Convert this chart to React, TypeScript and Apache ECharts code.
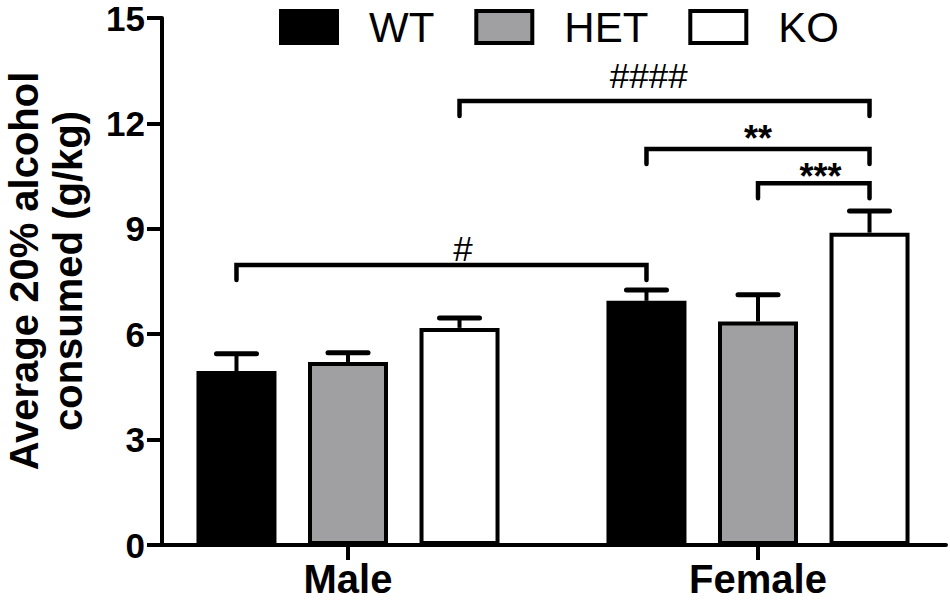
import React, { useEffect, useRef } from "react";
import * as echarts from "echarts";

const CATEGORIES = ["Male", "Female"];
const GROUPS = ["WT", "HET", "KO"];
const WT_MEAN = [4.95, 6.95];
const WT_SEM = [0.49, 0.31];
const HET_MEAN = [5.21, 6.36];
const HET_SEM = [0.26, 0.76];
const KO_MEAN = [6.18, 8.89];
const KO_SEM = [0.28, 0.62];
const Y_MIN = 0;
const Y_MAX = 15;
const Y_STEP = 3;
const Y_NAME = ["Average 20% alcohol", "consumed (g/kg)"];

// significance brackets: from/to = [category index, group index]
const BRACKET_FROM = [[0, 0], [0, 2], [1, 0], [1, 1]];
const BRACKET_TO = [[1, 0], [1, 2], [1, 2], [1, 2]];
const BRACKET_Y = [7.97, 12.64, 11.27, 10.3];
const BRACKET_TEXT = ["#", "####", "**", "***"];
const BRACKET_LABEL_AT = [[0, 2.03], [1, 0.02], [1, 1.0], [1, 1.56]];
const BRACKET_LABEL_Y = [8.45, 13.36, 11.56, 10.48];

const FONT = "'Liberation Sans', Arial, Helvetica, sans-serif";
const BAR_W = 80;
const BAR_GAP = 0.394;
const STEP = BAR_W * (1 + BAR_GAP);
const CAP_W = 40;
const DROP = 15;

export default function App() {
  const ref = useRef<HTMLDivElement>(null);
  useEffect(() => {
    document.body.style.margin = "0";
    if (!ref.current) return;
    const chart = echarts.init(ref.current, undefined, { renderer: "svg" });
    const means = [WT_MEAN, HET_MEAN, KO_MEAN];
    const sems = [WT_SEM, HET_SEM, KO_SEM];
    const fills = ["#000000", "#a0a0a3", "#ffffff"];

    const errData: number[][] = [];
    GROUPS.forEach((_, s) => {
      CATEGORIES.forEach((_, c) => {
        errData.push([c, means[s][c], sems[s][c], s]);
      });
    });

    const gridTop = 18;
    const gridBottom = 60;

    const option: any = {
      animation: false,
      textStyle: { fontFamily: FONT },
      grid: [
        { left: 162, right: 4, top: gridTop, bottom: gridBottom, outerBoundsMode: "none", containLabel: false },
        { left: 143, width: 820, top: gridTop, bottom: gridBottom, outerBoundsMode: "none", containLabel: false },
      ],
      legend: {
        data: GROUPS,
        left: 279,
        top: 6,
        padding: 0,
        icon: "rect",
        itemWidth: 56,
        itemHeight: 32,
        itemGap: 40,
        selectedMode: false,
        itemStyle: { borderWidth: 4, borderColor: "#000" },
        textStyle: {
          fontFamily: FONT,
          fontSize: 42,
          color: "#000",
          lineHeight: 36,
          padding: [0, 0, 0, 27],
        },
      },
      xAxis: [
        {
          type: "value",
          gridIndex: 0,
          min: 0,
          max: 1,
          axisLine: { show: true, lineStyle: { color: "#000", width: 4 } },
          axisTick: { show: false },
          axisLabel: { show: false },
          splitLine: { show: false },
        },
        {
          type: "category",
          gridIndex: 1,
          data: CATEGORIES,
          axisLine: { show: false },
          axisTick: {
            show: true,
            alignWithLabel: true,
            length: 15,
            lineStyle: { color: "#000", width: 4 },
          },
          axisLabel: {
            margin: 14,
            color: "#000",
            fontFamily: FONT,
            fontWeight: "bold",
            fontSize: 40,
          },
          splitLine: { show: false },
        },
      ],
      yAxis: [
        {
          type: "value",
          gridIndex: 0,
          min: Y_MIN,
          max: Y_MAX,
          interval: Y_STEP,
          axisLine: { show: true, lineStyle: { color: "#000", width: 4 } },
          axisTick: { show: true, length: 15, lineStyle: { color: "#000", width: 4 } },
          axisLabel: {
            margin: 17,
            color: "#000",
            fontFamily: FONT,
            fontWeight: "bold",
            fontSize: 35,
            lineHeight: 28,
          },
          splitLine: { show: false },
        },
        {
          type: "value",
          gridIndex: 1,
          min: Y_MIN,
          max: Y_MAX,
          interval: Y_STEP,
          show: false,
          splitLine: { show: false },
        },
      ],
      graphic: Y_NAME.map((line, k) => ({
        type: "text",
        x: k === 0 ? 24 : 68,
        y: 271,
        rotation: Math.PI / 2,
        style: {
          text: line,
          fontFamily: FONT,
          fontWeight: "bold",
          fontSize: 40,
          lineHeight: 34,
          fill: "#000",
          align: "center",
          verticalAlign: "middle",
          textAlign: "center",
          textVerticalAlign: "middle",
        },
      })),
      series: [
        ...GROUPS.map((g, s) => ({
          name: g,
          type: "bar",
          xAxisIndex: 1,
          yAxisIndex: 1,
          data: means[s],
          barWidth: BAR_W,
          barGap: BAR_GAP * 100 + "%",
          itemStyle: { color: fills[s], borderColor: "#000", borderWidth: 4 },
          emphasis: { disabled: true },
          z: 2,
        })),
        {
          type: "custom",
          name: "err",
          xAxisIndex: 1,
          yAxisIndex: 1,
          data: errData,
          z: 3,
          clip: false,
          silent: true,
          renderItem: (params: any, api: any) => {
            const c = api.value(0);
            const m = api.value(1);
            const e = api.value(2);
            const s = api.value(3);
            const base = api.coord([c, m]);
            const top = api.coord([c, m + e]);
            const x = base[0] + (s - 1) * STEP;
            return {
              type: "group",
              children: [
                {
                  type: "line",
                  shape: { x1: x, y1: base[1], x2: x, y2: top[1] },
                  style: { stroke: "#000", lineWidth: 4 },
                },
                {
                  type: "line",
                  shape: { x1: x - CAP_W / 2, y1: top[1], x2: x + CAP_W / 2, y2: top[1] },
                  style: { stroke: "#000", lineWidth: 5, lineCap: "round" },
                },
              ],
            };
          },
        },
        {
          type: "custom",
          name: "sig",
          xAxisIndex: 1,
          yAxisIndex: 1,
          data: BRACKET_Y.map((y, i) => [BRACKET_FROM[i][0], y]),
          z: 4,
          clip: false,
          silent: true,
          renderItem: (params: any, api: any) => {
            const i = params.dataIndex;
            const f = BRACKET_FROM[i];
            const t = BRACKET_TO[i];
            const la = BRACKET_LABEL_AT[i];
            const p1 = api.coord([f[0], BRACKET_Y[i]]);
            const p2 = api.coord([t[0], BRACKET_Y[i]]);
            const pl = api.coord([la[0], BRACKET_LABEL_Y[i]]);
            const x1 = p1[0] + (f[1] - 1) * STEP;
            const x2 = p2[0] + (t[1] - 1) * STEP;
            const y = p1[1];
            const xl = pl[0] + (la[1] - 1) * STEP;
            const isHash = BRACKET_TEXT[i].indexOf("#") >= 0;
            return {
              type: "group",
              children: [
                {
                  type: "polyline",
                  shape: {
                    points: [
                      [x1, y + DROP],
                      [x1, y],
                      [x2, y],
                      [x2, y + DROP],
                    ],
                  },
                  style: { stroke: "#000", lineWidth: 4.5, lineCap: "round", fill: "none" },
                },
                {
                  type: "text",
                  style: {
                    text: BRACKET_TEXT[i],
                    x: xl,
                    y: pl[1],
                    fontFamily: FONT,
                    fontSize: isHash ? 35 : 36,
                    fontWeight: isHash ? "normal" : "bold",
                    fill: "#000",
                    align: "center",
                    verticalAlign: "middle",
                    textAlign: "center",
                    textVerticalAlign: "middle",
                  },
                },
              ],
            };
          },
        },
      ],
    };
    chart.setOption(option);
    return () => chart.dispose();
  }, []);
  return <div ref={ref} style={{ width: 950, height: 605 }} />;
}
